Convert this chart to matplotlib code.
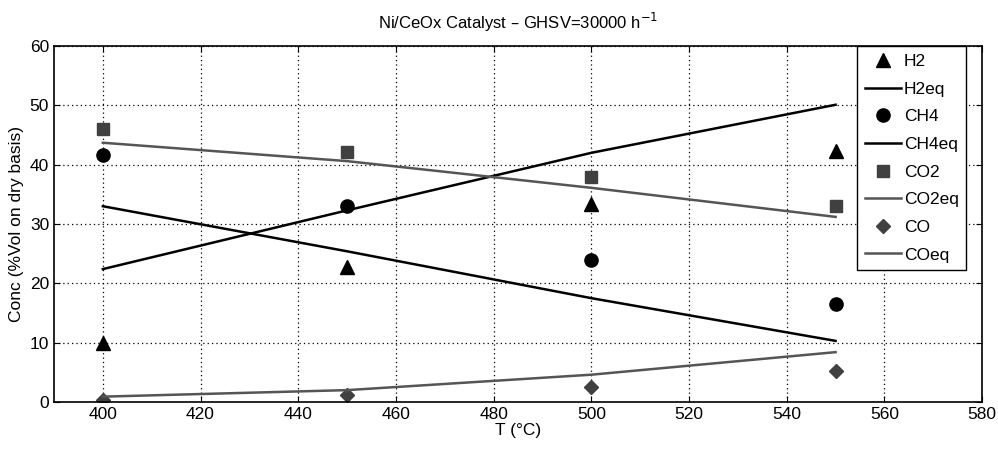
import matplotlib
matplotlib.use("Agg")
import matplotlib.pyplot as plt

plt.rcParams['font.family'] = ['Liberation Sans', 'DejaVu Sans']

# temperatures (deg C)
T = [400, 450, 500, 550]

# measured concentrations (%Vol on dry basis)
h2 = [10.0, 22.8, 33.3, 42.3]
ch4 = [41.6, 33.0, 24.0, 16.5]
co2 = [46.0, 42.1, 38.0, 33.0]
co = [0.4, 1.1, 2.6, 5.3]

# equilibrium curves
h2_eq = [22.4, 32.3, 42.0, 50.1]
ch4_eq = [33.0, 25.4, 17.5, 10.3]
co2_eq = [43.7, 40.6, 36.1, 31.2]
co_eq = [0.9, 2.0, 4.6, 8.4]

dark = "#404040"
gray = "#555555"

fig = plt.figure(figsize=(9.98, 4.5), dpi=100)
ax = fig.add_axes([0.0541, 0.1067, 0.930, 0.791])

ax.plot(T, h2, '^', color='black', markersize=10, linestyle='none', label='H2')
ax.plot(T, h2_eq, '-', color='black', lw=1.8, label='H2eq')
ax.plot(T, ch4, 'o', color='black', markersize=9.5, linestyle='none', label='CH4')
ax.plot(T, ch4_eq, '-', color='black', lw=1.8, label='CH4eq')
ax.plot(T, co2, 's', color=dark, markersize=8, linestyle='none', label='CO2')
ax.plot(T, co2_eq, '-', color=gray, lw=1.8, label='CO2eq')
ax.plot(T, co, 'D', color=dark, markersize=7.5, linestyle='none', label='CO')
ax.plot(T, co_eq, '-', color=gray, lw=1.8, label='COeq')

ax.set_xlim(390, 580)
ax.set_ylim(0, 60)
ax.set_xticks(range(400, 581, 20))
ax.set_yticks(range(0, 61, 10))
ax.grid(True, color='black', linestyle=(0, (1, 2.5)), linewidth=0.9)
ax.tick_params(direction='in', top=True, right=True, length=4, labelsize=12.5)
for s in ax.spines.values():
    s.set_linewidth(1.2)

ax.set_xlabel('T (°C)', fontsize=12.5, labelpad=1)
ax.set_ylabel('Conc (%Vol on dry basis)', fontsize=12.5, labelpad=4)
ax.set_title('Ni/CeOx Catalyst – GHSV=30000 h$^{-1}$', fontsize=12, pad=12)

leg = ax.legend(loc='upper right', bbox_to_anchor=(0.983, 1.0), borderaxespad=0,
                fancybox=False, framealpha=1, edgecolor='black', fontsize=12.5,
                labelspacing=0.72, handlelength=2.1, handletextpad=0.15,
                borderpad=0.45)
leg.get_frame().set_linewidth(1.0)

fig.savefig('out.png', dpi=100)
